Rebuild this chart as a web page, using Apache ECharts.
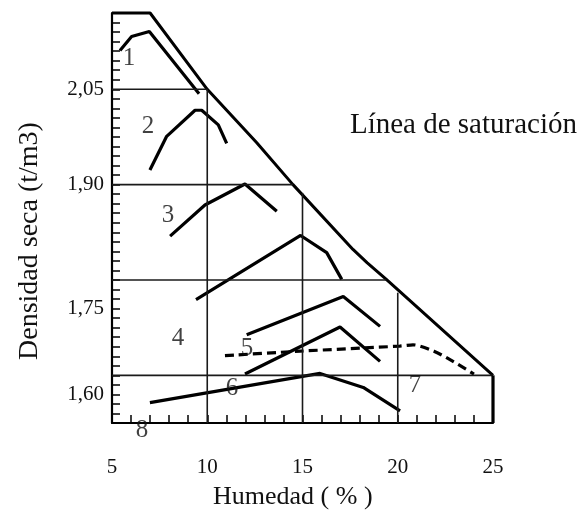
<!DOCTYPE html>
<html>
<head>
<meta charset="utf-8">
<script src="https://cdn.jsdelivr.net/npm/echarts@6/dist/echarts.min.js"></script>
<style>
html, body { margin: 0; padding: 0; background: #fff; }
#chart { width: 579px; height: 518px; }
</style>
</head>
<body>
<div id="chart"></div>
<script>
// curvas de compactacion [humedad %, densidad seca t/m3]
const curva1 = [[5.42, 2.111], [6.03, 2.133], [6.96, 2.141], [9.57, 2.043]]
const curva2 = [[6.99, 1.923], [7.87, 1.976], [9.36, 2.017], [9.71, 2.017], [10.58, 1.994], [11.02, 1.965]]
const curva3 = [[8.05, 1.819], [9.88, 1.868], [11.98, 1.901], [13.65, 1.858]]
const curva4 = [[9.41, 1.719], [14.9, 1.820], [16.27, 1.793], [17.06, 1.751]]
const curva5 = [[12.07, 1.664], [17.14, 1.724], [19.07, 1.677]]
const curva6 = [[11.98, 1.602], [16.97, 1.676], [19.07, 1.622]]
const curva7 = [[10.93, 1.631], [14.87, 1.638], [20.1, 1.646], [20.8, 1.648], [21.9, 1.638], [22.9, 1.622], [24.0, 1.602]]
const curva8 = [[6.99, 1.557], [15.92, 1.603], [18.19, 1.581], [20.12, 1.544]]

// linea de saturacion
const saturacion = [[5, 2.17], [7, 2.17], [10, 2.05], [12.6, 1.966], [14.5, 1.90], [17.65, 1.798], [18.4, 1.777], [19.4, 1.751], [25, 1.60]]

// reticula escalonada: horizontales [densidad, desde, hasta], verticales [humedad, desde, hasta]
const lineasH = [[2.05, 5, 10], [1.90, 5, 14.5], [1.75, 5, 19.4], [1.60, 5, 25]]
const lineasV = [[10, 1.525, 2.05], [15, 1.525, 1.887], [20, 1.525, 1.73], [25, 1.525, 1.60]]

// numeros de las curvas
const nombresCurvas = ['1', '2', '3', '4', '5', '6', '7', '8']
const posCurvas = [[5.89, 2.098], [6.89, 1.992], [7.94, 1.851], [8.46, 1.658], [12.09, 1.642], [11.3, 1.579], [20.91, 1.584], [6.57, 1.513]]

// etiquetas del eje y (como estan en la figura)
const yTickValues = [2.05, 1.90, 1.705, 1.57]
const yTickTexts = ['2,05', '1,90', '1,75', '1,60']
const xTickLabels = [5, 10, 15, 20, 25]

const fuente = 'Liberation Serif'
const negro = '#000'
const texto = '#111'

const series = []
const curvas = [curva1, curva2, curva3, curva4, curva5, curva6, curva8]
curvas.forEach(c => {
  series.push({
    type: 'line', data: c, symbol: 'none', clip: false, silent: true,
    lineStyle: { color: negro, width: 3.2 }
  })
})
series.push({
  type: 'line', data: curva7, symbol: 'none', clip: false, smooth: 0.25,
  lineStyle: { color: negro, width: 3.2, type: [9, 5] }
})
series.push({
  type: 'line', data: saturacion, symbol: 'none', clip: false,
  lineStyle: { color: negro, width: 3 }
})
lineasH.forEach(l => {
  series.push({
    type: 'line', data: [[l[1], l[0]], [l[2], l[0]]], symbol: 'none', clip: false,
    lineStyle: { color: '#1a1a1a', width: 1.6 }
  })
})
lineasV.forEach((l, i) => {
  series.push({
    type: 'line', data: [[l[0], l[1]], [l[0], l[2]]], symbol: 'none', clip: false,
    lineStyle: { color: i === 3 ? negro : '#1a1a1a', width: i === 3 ? 3.2 : 1.6 }
  })
})
series.push({
  type: 'scatter', symbolSize: 0, clip: false, z: 5,
  data: nombresCurvas.map((n, i) => ({ name: n, value: posCurvas[i] })),
  label: {
    show: true, position: 'inside', formatter: p => p.name,
    fontFamily: fuente, fontSize: 25, color: texto
  }
})

const chart = echarts.init(document.getElementById('chart'))
chart.setOption({
  animation: false,
  backgroundColor: '#fff',
  grid: { left: 112, right: 86, top: 13, bottom: 95 },
  xAxis: {
    type: 'value', min: 5, max: 25, interval: 1,
    axisLine: { show: true, lineStyle: { color: negro, width: 2.2 } },
    axisTick: { show: true, inside: true, length: 8, lineStyle: { color: negro, width: 1.5 } },
    axisLabel: {
      margin: 34, fontFamily: fuente, fontSize: 21, color: texto,
      formatter: v => xTickLabels.indexOf(Math.round(v)) >= 0 && Math.abs(v - Math.round(v)) < 1e-6 ? String(Math.round(v)) : ''
    },
    splitLine: { show: false }
  },
  yAxis: {
    type: 'value', min: 1.525, max: 2.17, interval: 0.015,
    axisLine: { show: true, lineStyle: { color: negro, width: 2.2 } },
    axisTick: { show: true, inside: true, length: 8, lineStyle: { color: negro, width: 1.5 } },
    axisLabel: {
      margin: 8, fontFamily: fuente, fontSize: 21, color: texto,
      formatter: v => {
        const i = yTickValues.findIndex(t => Math.abs(t - v) < 0.002)
        return i >= 0 ? yTickTexts[i] : ''
      }
    },
    splitLine: { show: false }
  },
  graphic: [
    {
      type: 'text', right: 2, top: 111,
      style: { text: 'Línea de saturación', font: '29px "Liberation Serif"', fill: texto }
    },
    {
      type: 'text', left: 213, top: 484,
      style: { text: 'Humedad ( % )', font: '26px "Liberation Serif"', fill: texto }
    },
    {
      type: 'text', x: 16, y: 360, rotation: Math.PI / 2,
      style: { text: 'Densidad seca (t/m3)', font: '28px "Liberation Serif"', fill: texto }
    }
  ],
  series: series
})
</script>
</body>
</html>
